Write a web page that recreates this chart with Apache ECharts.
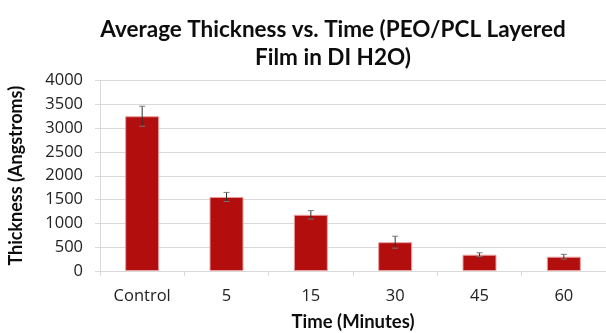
<!DOCTYPE html>
<html><head><meta charset="utf-8">
<script src="https://cdn.jsdelivr.net/npm/echarts@6/dist/echarts.min.js"></script>
<style>html,body{margin:0;padding:0;background:#fff}#c{width:606px;height:333px}</style>
</head><body><div id="c"></div>
<script>
var categories = ['Control', '5', '15', '30', '45', '60'];
var thickness = [3250, 1555, 1180, 605, 342, 300];
var errorHalf = [210, 95, 88, 125, 40, 50];
var yTicks = [0, 500, 1000, 1500, 2000, 2500, 3000, 3500, 4000];

var FONT = 'Lato';
var TICKFONT = 'Open Sans';
var chart = echarts.init(document.getElementById('c'), null, {renderer: 'canvas'});
var errData = categories.map(function (c, i) {
  return [i, thickness[i] - errorHalf[i], thickness[i] + errorHalf[i]];
});
chart.setOption({
  animation: false,
  title: {
    text: 'Average Thickness vs. Time (PEO/PCL Layered\nFilm in DI H2O)',
    left: 328, top: 11, textAlign: 'center',
    textStyle: {fontFamily: FONT, fontWeight: 'bold', fontSize: 22.5, color: '#0d0d0d', lineHeight: 28}
  },
  grid: {left: 100, right: 0, top: 80.5, bottom: 62, containLabel: false, outerBoundsMode: 'none'},
  xAxis: {
    type: 'category', data: categories,
    name: 'Time (Minutes)', nameLocation: 'middle', nameGap: 42,
    nameTextStyle: {fontFamily: FONT, fontWeight: 'bold', fontSize: 18.5, color: '#0d0d0d'},
    axisLine: {lineStyle: {color: '#d9d9d9'}},
    axisTick: {show: true, length: 5, lineStyle: {color: '#d9d9d9'}},
    axisLabel: {fontFamily: TICKFONT, fontSize: 16.5, color: '#222', margin: 17}
  },
  yAxis: {
    type: 'value', min: 0, max: 4000, interval: 500,
    name: 'Thickness (Angstroms)', nameLocation: 'middle', nameGap: 75, nameRotate: 90,
    nameTextStyle: {fontFamily: FONT, fontWeight: 'bold', fontSize: 18, color: '#0d0d0d'},
    axisLine: {show: true, lineStyle: {color: '#d9d9d9'}},
    axisTick: {show: true, length: 5, inside: false, lineStyle: {color: '#d9d9d9'}},
    splitLine: {lineStyle: {color: '#d9d9d9'}},
    axisLabel: {fontFamily: TICKFONT, fontSize: 16.5, color: '#222', margin: 17,
      formatter: function (v) { return yTicks.indexOf(v) >= 0 ? String(v) : ''; }}
  },
  series: [{
    type: 'bar', data: thickness, barWidth: 34,
    itemStyle: {color: '#B20E0E', borderColor: '#eaa0a0', borderWidth: 1}
  }, {
    type: 'custom', data: errData, z: 10,
    renderItem: function (params, api) {
      var x = api.value(0);
      var lo = api.coord([x, api.value(1)]);
      var hi = api.coord([x, api.value(2)]);
      var w = 3;
      var st = {stroke: '#333', lineWidth: 1};
      return {type: 'group', children: [
        {type: 'line', shape: {x1: lo[0], y1: lo[1], x2: hi[0], y2: hi[1]}, style: st},
        {type: 'line', shape: {x1: lo[0] - w, y1: lo[1], x2: lo[0] + w, y2: lo[1]}, style: {stroke: '#777', lineWidth: 1}},
        {type: 'line', shape: {x1: hi[0] - w, y1: hi[1], x2: hi[0] + w, y2: hi[1]}, style: {stroke: '#777', lineWidth: 1}}
      ]};
    }
  }]
});
</script></body></html>
